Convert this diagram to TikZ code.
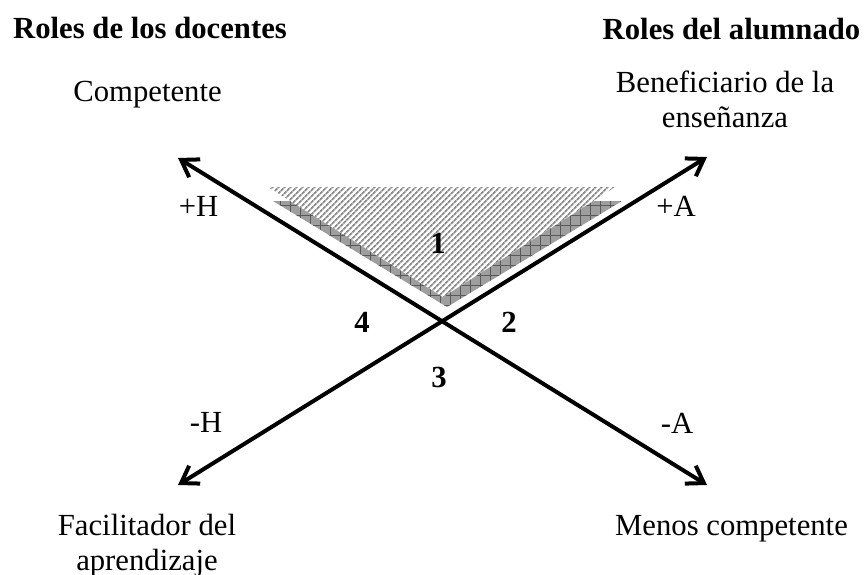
\documentclass[tikz,border=0pt]{standalone}
\usepackage{fontspec}
\setmainfont{Liberation Serif}
\usetikzlibrary{arrows.meta,patterns.meta}

\begin{document}
\begin{tikzpicture}[
        x=1pt, y=-1pt, % coordenadas en pixeles, y hacia abajo
        >={Straight Barb[length=16pt,width=21pt]},
        eje/.style = {<->, line width=4pt}, % ejes con flecha doble
        rol/.style = {anchor=base, align=center, inner sep=0pt, font=\fontsize{30.7}{35}\selectfont},
        titulo/.style = {rol, font=\fontsize{30.7}{35}\selectfont\bfseries},
        zona/.style = {titulo}, % numeros de los cuadrantes
        rayado/.style = {pattern={Lines[angle=45,distance=4pt,line width=1.8pt]}, pattern color=black!45},
        cuadro/.style = {pattern={Hatch[angle=0,distance=10pt,line width=0.6pt]}, pattern color=black!65},
    ]
    \useasboundingbox (0,0) rectangle (864,575);

    % triangulos sombreados
    \fill[black!38] (273,201) -- (622,201) -- (447,307) -- cycle;
    \fill[cuadro] (273,201) -- (622,201) -- (447,307) -- cycle;
    \fill[white] (268,187) -- (615,187) -- (443,297) -- cycle;
    \fill[rayado] (268,187) -- (615,187) -- (443,297) -- cycle;

    % extremos de los ejes
    \coordinate (hmas) at (178,158);
    \coordinate (hmenos) at (178,485);
    \coordinate (amas) at (707,157);
    \coordinate (amenos) at (707,485);

    \draw[eje] (hmas) -- (amenos);
    \draw[eje] (hmenos) -- (amas);

    \node[titulo] (docentes) at (150,39) {Roles de los docentes};
    \node[titulo] (alumnado) at (731.5,40) {Roles del alumnado};

    \node[rol] (competente) at (147.5,102) {Competente};
    \node[rol] (beneficiario) at (725,128) {Beneficiario de la\\enseñanza}; % base = ultima linea
    \node[rol] (facilitador) at (147,570) {Facilitador del\\aprendizaje};
    \node[rol] (menos) at (731.5,535) {Menos competente};

    \node[rol] (lhmas) at (198.5,216) {+H};
    \node[rol] (lamas) at (676,216) {+A};
    \node[rol] (lhmenos) at (206,432) {-H};
    \node[rol] (lamenos) at (677,433) {-A};

    \node[zona] (z1) at (438,253) {1};
    \node[zona] (z2) at (509,332) {2};
    \node[zona] (z3) at (439,387) {3};
    \node[zona] (z4) at (362,332) {4};
\end{tikzpicture}
\end{document}
